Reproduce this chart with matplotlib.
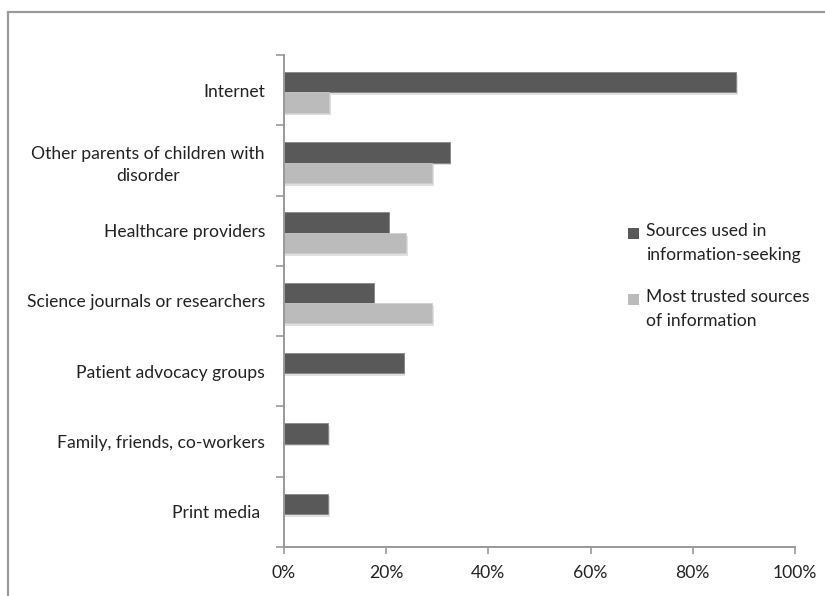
import matplotlib
matplotlib.use("Agg")
import matplotlib.pyplot as plt
from matplotlib.patches import Rectangle
import matplotlib.patheffects as pe
import numpy as np

categories = ["Internet", "Other parents of children with\ndisorder", "Healthcare providers",
              "Science journals or researchers", "Patient advocacy groups",
              "Family, friends, co-workers", "Print media "]
used = [88.5, 32.4, 20.5, 17.6, 23.5, 8.7, 8.7]
trusted = [8.9, 29.0, 23.9, 29.0, 0, 0, 0]
series_names = ["Sources used in\ninformation-seeking", "Most trusted sources\nof information"]
xticks = [0, 20, 40, 60, 80, 100]
xticklabels = ["0%", "20%", "40%", "60%", "80%", "100%"]

plt.rcParams['font.family'] = ['Lato', 'DejaVu Sans']

W, H = 825, 596
fig = plt.figure(figsize=(W/100, H/100), dpi=100)
ax = fig.add_axes([284/W, 1-547/H, (795-284)/W, (547-55)/H])

n = len(categories)
y = np.arange(n)
bh = 0.29
off = 0.03
dark = "#595959"
light = "#BBBBBB"
fs = 12.6
shadow = [pe.SimplePatchShadow(offset=(1, -2), alpha=0.12, shadow_rgbFace="#000000"), pe.Normal()]
b1 = ax.barh(y - bh/2 + off, used, height=bh, color=dark, edgecolor="#808080", linewidth=0.5,
             path_effects=shadow, label=series_names[0])
b2 = ax.barh(y + bh/2 + off, [t if t > 0 else np.nan for t in trusted], height=bh, color=light,
             edgecolor="#cccccc", linewidth=0.5, path_effects=shadow, label=series_names[1])

ax.set_ylim(n - 0.5, -0.5)
ax.set_xlim(0, 100)
ax.set_xticks(xticks)
ax.set_xticklabels(xticklabels, fontsize=fs, color="#222222")
ax.set_yticks(y)
ax.set_yticklabels(categories, fontsize=fs, color="#222222")
for t in ax.get_yticklabels():
    t.set_multialignment("center")
    t.set_linespacing(1.45)
ax.set_yticks(np.arange(n + 1) - 0.5, minor=True)
ax.tick_params(axis="y", which="major", length=0, pad=13.7)
ax.tick_params(axis="y", which="minor", length=6, width=1.2, color="#999999", direction="out")
ax.tick_params(axis="x", which="major", length=5, width=1.2, color="#999999", direction="out", pad=8)

for s in ["top", "right"]:
    ax.spines[s].set_visible(False)
for s in ["left", "bottom"]:
    ax.spines[s].set_color("#999999")
    ax.spines[s].set_linewidth(1.4)

# outer frame
fig.patches.append(Rectangle((8/W, -0.1), 1.2, 1 - 12/H + 0.1, transform=fig.transFigure,
                             fill=False, edgecolor="#999999", linewidth=1.6))

# legend (square aligned with first text line, as in the reference)
leg_colors = [dark, light]
leg_y = [234, 300]
for name, col, ly in zip(series_names, leg_colors, leg_y):
    fig.patches.append(Rectangle((628/W, 1 - (ly + 5)/H), 11/W, 11/H, transform=fig.transFigure,
                                 facecolor=col, edgecolor="none"))
    fig.text(646/W, 1 - (ly - 11)/H, name, fontsize=fs, color="#222222", va="top", ha="left",
             linespacing=1.6)

fig.savefig("out.png", dpi=100)
